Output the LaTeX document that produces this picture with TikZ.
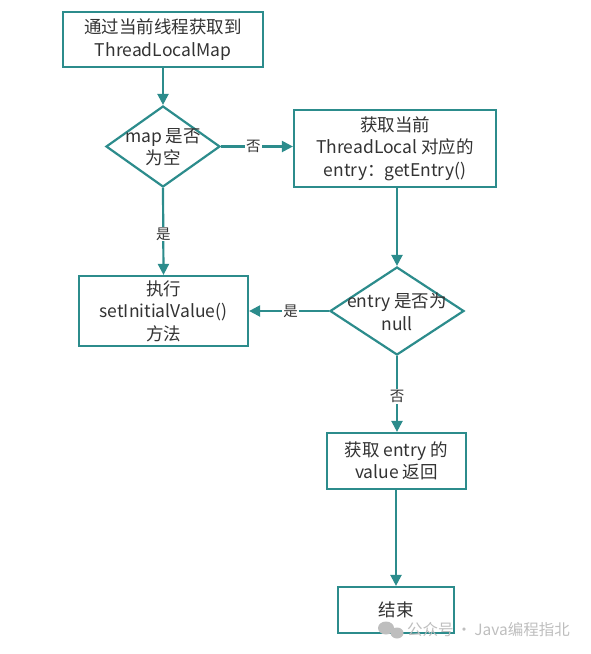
\documentclass[tikz,border=0pt]{standalone}
\usepackage{fontspec}
\setmainfont{Noto Sans CJK SC}
\usetikzlibrary{shapes.geometric,arrows.meta}
\definecolor{teal1}{RGB}{44,140,140}
\definecolor{txt}{RGB}{51,51,51}
\definecolor{wm}{RGB}{190,190,190}
\begin{document}
\begin{tikzpicture}[x=1pt,y=-1pt,
  font=\fontsize{17.5}{22.5}\selectfont,
  box/.style={draw=teal1,line width=2.2pt,fill=white,text=txt,inner sep=0pt,align=center},
  dia/.style={draw=teal1,line width=2.2pt,fill=white,text=txt,diamond,inner sep=0pt,align=center},
  conn/.style={draw=teal1,line width=2.2pt,-{Triangle[length=11pt,width=11pt]}},
  lab/.style={fill=white,text=txt,inner sep=1pt,font=\fontsize{14.5}{16}\selectfont}]
\useasboundingbox (0,0) rectangle (590,654);
\node[box,minimum width=200pt,minimum height=55pt] (b1) at (163,39.5) {通过当前线程获取到\\ThreadLocalMap};
\node[dia,minimum width=114pt,minimum height=81pt] (d1) at (163,146.5) {};
\node[text=txt,align=center] at (163,147) {map 是否\\为空};
\node[box,minimum width=202pt,minimum height=77pt] (b2) at (395,148.5) {获取当前\\ThreadLocal 对应的\\entry：getEntry()};
\node[box,minimum width=169pt,minimum height=70pt] (b3) at (163.5,311) {执行\\setInitialValue()\\方法};
\node[dia,minimum width=134pt,minimum height=88pt] (d2) at (397,311) {};
\node[text=txt,align=center] at (397,312) {entry 是否为\\null};
\node[box,minimum width=139pt,minimum height=56pt] (b4) at (396.5,461) {获取 entry 的\\value 返回};
\node[box,minimum width=116pt,minimum height=46pt] (b5) at (396,610) {结束};
\draw[conn] (b1.south) -- (d1.north);
\draw[conn] (d1.east) -- node[lab,pos=0.45] {否} (b2.west |- d1.east);
\draw[conn] (d1.south) -- node[lab,pos=0.53] {是} (b3.north);
\draw[conn] (b2.south -| d2.north) -- (d2.north);
\draw[conn] (d2.west) -- node[lab,pos=0.48] {是} (b3.east);
\draw[conn] (d2.south) -- node[lab,pos=0.53] {否} (b4.north -| d2.south);
\draw[conn] (b4.south -| b5.north) -- (b5.north);
% watermark
\fill[wm] (386,628) ellipse (8pt and 6.5pt);
\fill[wm] (397,633) ellipse (6.5pt and 5.5pt);
\node[text=wm,anchor=west,inner sep=0pt,font=\fontsize{15.5}{18}\selectfont] (wmk) at (407,630) {公众号\,·\,Java编程指北};
\end{tikzpicture}
\end{document}
